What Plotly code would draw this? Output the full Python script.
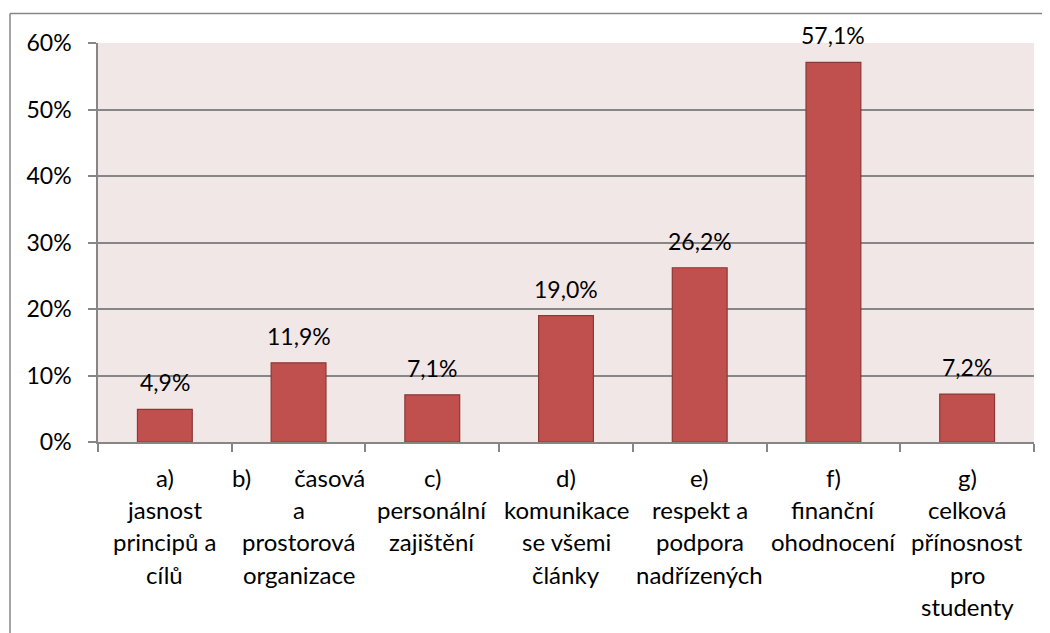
import plotly.graph_objects as go

categories = ["a", "b", "c", "d", "e", "f", "g"]
values = [4.9, 11.9, 7.1, 19.0, 26.2, 57.1, 7.2]
value_labels = ["4,9%", "11,9%", "7,1%", "19,0%", "26,2%", "57,1%", "7,2%"]
label_lines = [
    ["a)", "jasnost", "principů a", "cílů"],
    ["b)" + "\u00a0" * 7 + "časová", "a", "prostorová", "organizace"],
    ["c)", "personální", "zajištění"],
    ["d)", "komunikace", "se všemi", "články"],
    ["e)", "respekt a", "podpora", "nadřízených"],
    ["f)", "finanční", "ohodnocení"],
    ["g)", "celková", "přínosnost", "pro", "studenty"],
]
y_ticks = [0, 10, 20, 30, 40, 50, 60]
y_ticklabels = ["0%", "10%", "20%", "30%", "40%", "50%", "60%"]

FONT = "Lato"
FS = 23
FS_CAT = 24
OFF = 8  # page body margin
W, H = 1050 - OFF, 633 - OFF
L, T = 98 - OFF, 43 - OFF
R = W - (1034 - OFF)
B = H - (442 - OFF)
plot_h = H - T - B
pw = W - L - R

fig = go.Figure()
fig.add_trace(go.Bar(
    x=categories, y=values,
    marker=dict(color="#C0504D", line=dict(color="#8C3836", width=1.2)),
    width=0.41, hoverinfo="skip",
))

annotations = []
for cat, v, lab in zip(categories, values, value_labels):
    annotations.append(dict(
        x=cat, y=v, xref="x", yref="y", text=lab, showarrow=False,
        xanchor="center", yanchor="bottom", yshift=11,
        font=dict(family=FONT, size=FS, color="#000000"),
    ))
for cat, lines in zip(categories, label_lines):
    for i, line in enumerate(lines):
        ypx = (477 - OFF) + 32.4 * i
        annotations.append(dict(
            x=cat, xref="x", y=(H - B - ypx) / plot_h, yref="paper",
            text=line, showarrow=False, xanchor="center", yanchor="middle",
            font=dict(family=FONT, size=FS_CAT, color="#000000"),
        ))

top_y = 1 + (T - (13.5 - OFF)) / plot_h
left_x = ((10 - OFF) - L) / pw
shapes = [
    dict(type="line", xref="paper", yref="paper",
         x0=left_x, x1=1.2, y0=top_y, y1=top_y,
         line=dict(color="#868686", width=1.5)),
    dict(type="line", xref="paper", yref="paper",
         x0=left_x, x1=left_x, y0=-1, y1=top_y,
         line=dict(color="#868686", width=1.5)),
]

fig.update_layout(
    width=W, height=H,
    margin=dict(l=L, r=R, t=T, b=B),
    paper_bgcolor="#FFFFFF", plot_bgcolor="#F2E7E7",
    showlegend=False,
    bargap=0.59,
    annotations=annotations,
    shapes=shapes,
    xaxis=dict(
        showticklabels=False, ticks="outside", ticklen=8, tickcolor="#868686", tickwidth=1.5,
        tickson="boundaries", showline=True, linecolor="#868686", linewidth=1.5,
        showgrid=False, zeroline=False,
    ),
    yaxis=dict(
        range=[0, 60], tickvals=y_ticks, ticktext=y_ticklabels,
        ticks="outside", ticklen=8, tickcolor="#868686", tickwidth=1.5,
        ticklabelstandoff=12,
        showline=True, linecolor="#868686", linewidth=1.5,
        showgrid=True, gridcolor="#868686", gridwidth=1.5, zeroline=False,
        tickfont=dict(family=FONT, size=FS, color="#000000"),
    ),
)

fig.write_html("out.html")
